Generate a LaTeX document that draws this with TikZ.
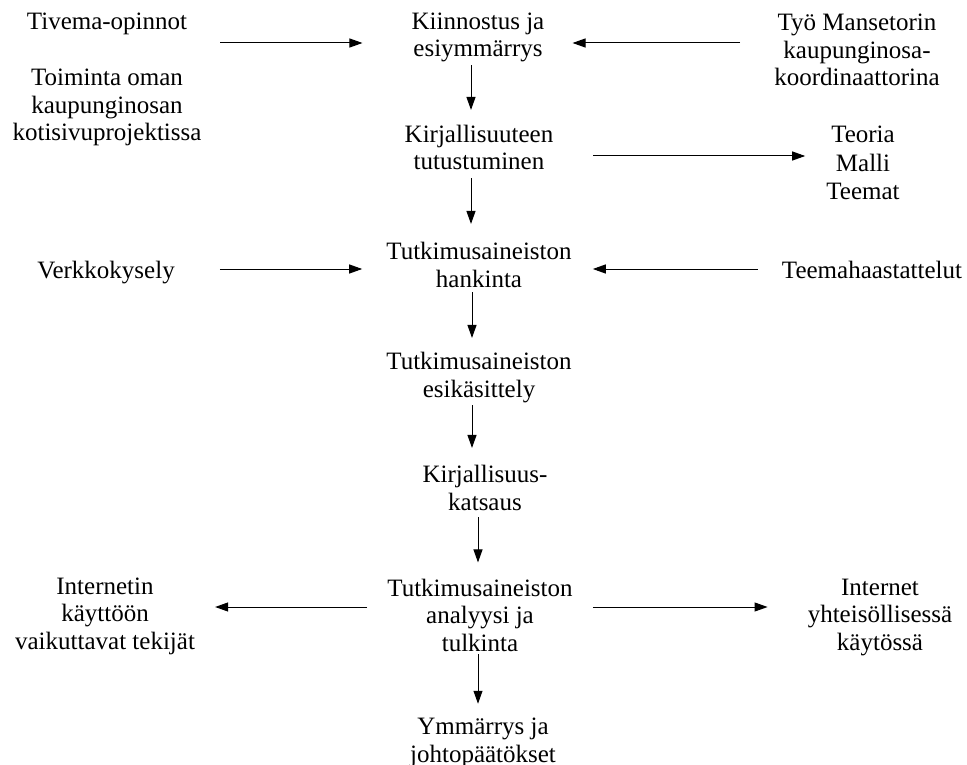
\documentclass[tikz,border=0pt]{standalone}
\usepackage{fontspec}
\setmainfont{Liberation Serif}
\usetikzlibrary{arrows.meta}
\begin{document}
\begin{tikzpicture}[x=1pt,y=-1pt,
  lbl/.style={font=\fontsize{25}{27.5}\selectfont, align=center, inner sep=0pt, anchor=base},
  arr/.style={draw=black, line width=1pt, -{Triangle[length=13pt,width=9pt]}}]
\useasboundingbox (0,0) rectangle (967,765);

% step texts in the middle column (positions are last-line baselines)
\node[lbl] (kiin) at (478,57) {Kiinnostus ja\\esiymmärrys};
\node[lbl] (kirj) at (479,170) {Kirjallisuuteen\\tutustuminen};
\node[lbl] (hank) at (479,287) {Tutkimusaineiston\\hankinta};
\node[lbl] (esik) at (479,397) {Tutkimusaineiston\\esikäsittely};
\node[lbl] (kats) at (485,510) {Kirjallisuus-\\katsaus};
\node[lbl] (anal) at (480,651) {Tutkimusaineiston\\analyysi ja\\tulkinta};
\node[lbl] (ymm)  at (483,762) {Ymmärrys ja\\johtopäätökset};

% inputs and outcomes on the sides
\node[lbl] (tiv)  at (107,30) {Tivema-opinnot};
\node[lbl] (toim) at (107,141) {Toiminta oman\\kaupunginosan\\kotisivuprojektissa};
\node[lbl] (tyo)  at (857,86) {Työ Mansetorin\\kaupunginosa-\\koordinaattorina};
\node[lbl, font=\fontsize{25}{28.5}\selectfont] (teo) at (863,200) {Teoria\\Malli\\Teemat};
\node[lbl] (verk) at (106,278) {Verkkokysely};
\node[lbl] (teem) at (872,278) {Teemahaastattelut};
\node[lbl] (intl) at (105,649) {Internetin\\käyttöön\\vaikuttavat tekijät};
\node[lbl] (intr) at (880,650) {Internet\\yhteisöllisessä\\käytössä};

% rows and columns the connectors run along
\coordinate (r1) at (0,43);
\coordinate (r2) at (0,156);
\coordinate (r3) at (0,269);
\coordinate (r6) at (0,607);
\coordinate (c1) at (471,0);
\coordinate (c2) at (472,0);
\coordinate (c3) at (478,0);

% horizontal connectors
\draw[arr, shorten <=33pt, shorten >=49pt] (tiv.east |- r1) -- (kiin.west |- r1);
\draw[arr, shorten <=34pt, shorten >=28pt] (tyo.west |- r1) -- (kiin.east |- r1);
\draw[arr, shorten <=40pt, shorten >=21pt] (kirj.east |- r2) -- (teo.west |- r2);
\draw[arr, shorten <=45pt, shorten >=24pt] (verk.east |- r3) -- (hank.west |- r3);
\draw[arr, shorten <=24pt, shorten >=21pt] (teem.west |- r3) -- (hank.east |- r3);
\draw[arr, shorten <=20pt, shorten >=20pt] (anal.west |- r6) -- (intl.east |- r6);
\draw[arr, shorten <=20pt, shorten >=40pt] (anal.east |- r6) -- (intr.west |- r6);

% vertical connectors
\draw[arr, shorten <=2.5pt, shorten >=15pt] (kiin.south -| c1) -- (kirj.north -| c1);
\draw[arr, shorten <=8pt, shorten >=18pt] (kirj.south -| c1) -- (hank.north -| c1);
\draw[arr, shorten <=5pt, shorten >=14pt] (hank.south -| c2) -- (esik.north -| c2);
\draw[arr, shorten <=2.5pt, shorten >=17pt] (esik.south -| c2) -- (kats.north -| c2);
\draw[arr, shorten <=7pt, shorten >=16pt] (kats.south -| c3) -- (anal.north -| c3);
\draw[arr, shorten <=3pt, shorten >=14pt] (anal.south -| c3) -- (ymm.north -| c3);
\end{tikzpicture}
\end{document}
